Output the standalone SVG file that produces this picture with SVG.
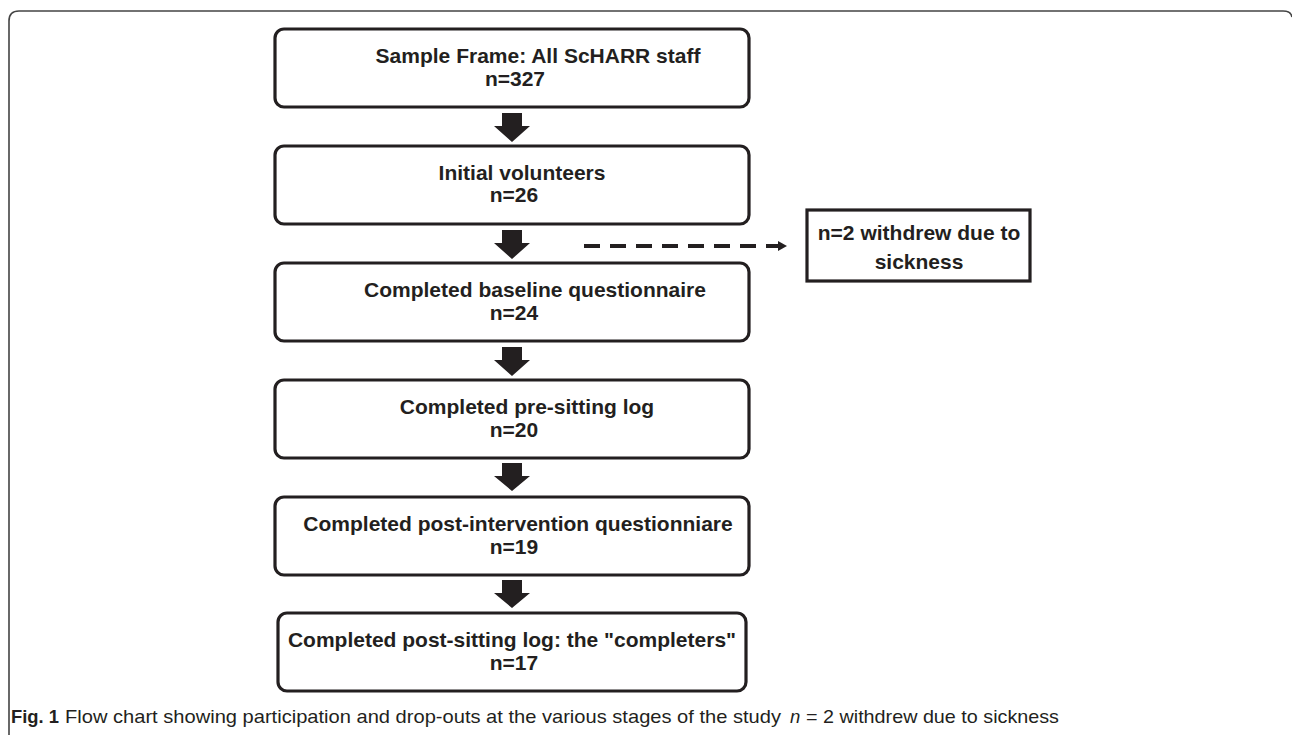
<svg xmlns="http://www.w3.org/2000/svg" width="1292" height="735" viewBox="0 0 1292 735">
<style>
.box{fill:#fff;stroke:#231f20;stroke-width:3.2}
.t{font-family:"Liberation Sans",Arial,sans-serif;font-weight:bold;font-size:21px;fill:#231f20;text-anchor:middle}
.arr{fill:#231f20}
.cap{font-family:"Liberation Sans",Arial,sans-serif;font-size:18.5px;fill:#231f20}
</style>
<defs>
<marker id="ah" markerWidth="10" markerHeight="10" refX="7" refY="5" orient="auto" markerUnits="userSpaceOnUse">
<path d="M0,0 L9,5 L0,10 Z" fill="#231f20"/>
</marker>
</defs>
<path d="M9,735 V21 Q9,11 19,11 H1283 Q1291,11 1292,17" fill="none" stroke="#444" stroke-width="1.6"/>
<g id="n1"><rect class="box" x="275" y="29" width="474" height="78" rx="9"/><text class="t" x="538" y="63">Sample Frame: All ScHARR staff</text><text class="t" x="515" y="86">n=327</text></g>
<g id="n2"><rect class="box" x="275" y="146" width="474" height="78" rx="9"/><text class="t" x="522" y="180">Initial volunteers</text><text class="t" x="514" y="202">n=26</text></g>
<g id="n3"><rect class="box" x="275" y="263" width="474" height="78" rx="9"/><text class="t" x="535" y="297">Completed baseline questionnaire</text><text class="t" x="514" y="320">n=24</text></g>
<g id="n4"><rect class="box" x="275" y="380" width="474" height="78" rx="9"/><text class="t" x="527" y="414">Completed pre-sitting log</text><text class="t" x="514" y="437">n=20</text></g>
<g id="n5"><rect class="box" x="275" y="497" width="474" height="78" rx="9"/><text class="t" x="518" y="531">Completed post-intervention questionniare</text><text class="t" x="514" y="554">n=19</text></g>
<g id="n6"><rect class="box" x="278" y="613" width="468" height="78" rx="9"/><text class="t" x="512" y="647">Completed post-sitting log: the "completers"</text><text class="t" x="514" y="670">n=17</text></g>
<g id="n7"><rect class="box" x="807" y="210" width="223" height="71" rx="0"/><text class="t" x="919" y="240">n=2 withdrew due to</text><text class="t" x="919" y="269">sickness</text></g>
<g id="connectors">
<path class="arr" d="M502,113 H522 V126 H530 L512,142 L494,126 H502 Z"/>
<path class="arr" d="M502,230 H522 V243 H530 L512,259 L494,243 H502 Z"/>
<path class="arr" d="M502,347 H522 V360 H530 L512,376 L494,360 H502 Z"/>
<path class="arr" d="M502,463 H522 V476 H530 L512,491 L494,476 H502 Z"/>
<path class="arr" d="M502,580 H522 V593 H530 L512,608 L494,593 H502 Z"/>
<line x1="584" y1="246" x2="785" y2="246" stroke="#231f20" stroke-width="4" stroke-dasharray="16 10" marker-end="url(#ah)"/>
</g>
<g id="caption">
<text class="cap" x="11" y="723" font-weight="bold" textLength="48" lengthAdjust="spacingAndGlyphs">Fig. 1</text>
<text class="cap" x="65" y="723" textLength="716" lengthAdjust="spacingAndGlyphs">Flow chart showing participation and drop-outs at the various stages of the study</text>
<text class="cap" x="790" y="723" font-style="italic">n</text>
<text class="cap" x="806" y="723" textLength="253" lengthAdjust="spacingAndGlyphs">= 2 withdrew due to sickness</text>
</g>
</svg>
